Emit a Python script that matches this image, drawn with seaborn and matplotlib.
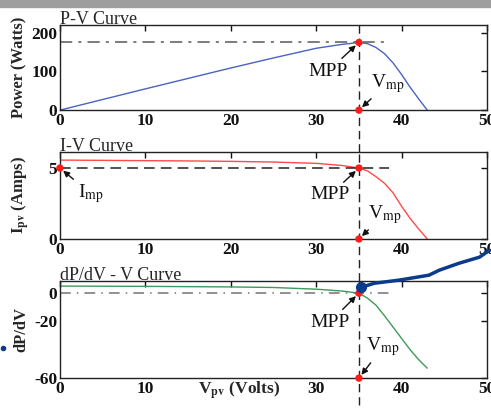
import matplotlib
matplotlib.use("Agg")
import matplotlib.pyplot as plt
import seaborn as sns
from matplotlib.patches import Rectangle

# values
v_pv = [0, 5, 10, 15, 20, 25, 30, 33, 35, 36, 37, 38, 39, 40, 41, 42, 43]
power = [0, 27.5, 55, 82, 109, 135, 160, 170, 175, 172, 162, 146, 122, 92, 59, 29, 0]
current = [5.56, 5.54, 5.52, 5.5, 5.47, 5.42, 5.33, 5.18, 5.0, 4.8, 4.39, 3.92, 3.25, 2.3, 1.45, 0.7, 0]
dpdv = [5, 4.9, 4.8, 4.6, 4.4, 4.0, 2.8, 1.5, 0, -3.5, -8.5, -16, -24, -32, -40, -47, -53]

v_mp = 35
p_mp = 175
i_mp = 5
ref_end = 38.5

# hand-drawn stroke over the scan (bottom panel data coords)
stroke_x = [35.3, 36.8, 39.7, 43.2, 44.4, 46.7, 49.1, 50.3]
stroke_y = [4.2, 7, 9.2, 12.7, 16.2, 21.1, 25.4, 30.3]

xticks = [0, 10, 20, 30, 40, 50]

sns.set_theme(style="white")
plt.rcParams["font.family"] = ["Liberation Serif", "DejaVu Serif"]
plt.rcParams["mathtext.fontset"] = "stix"
plt.rcParams["axes.unicode_minus"] = False
plt.rcParams["axes.edgecolor"] = "#222222"
plt.rcParams["axes.linewidth"] = 1.0

fig = plt.figure(figsize=(4.91, 4.11), dpi=100)
ax1 = fig.add_axes([0.122, 0.732, 0.870, 0.207])
ax2 = fig.add_axes([0.122, 0.4185, 0.870, 0.2117])
ax3 = fig.add_axes([0.122, 0.080, 0.870, 0.236])

sns.lineplot(x=v_pv, y=power, ax=ax1, color="#4a62c4", lw=1, sort=False, estimator=None)
sns.lineplot(x=v_pv, y=current, ax=ax2, color="#ff4a4a", lw=1, sort=False, estimator=None)
sns.lineplot(x=v_pv, y=dpdv, ax=ax3, color="#3d9a5a", lw=1, sort=False, estimator=None)

ax1.set_ylim(0, 220)
ax2.set_ylim(0, 6.13)
ax3.set_ylim(-60, 8.5)
ax1.set_yticks([0, 100, 200])
ax2.set_yticks([0, 5])
ax3.set_yticks([-60, -20, 0])

# reference lines
ax1.hlines(p_mp, 0, ref_end, colors="0.35", linestyles=(0, (8, 4, 2, 4)), lw=1.1)
ax2.hlines(i_mp, 0, ref_end, colors="#222222", linestyles=(0, (7, 4)), lw=1.1)
ax3.hlines(0, 0, ref_end, colors="0.45", linestyles=(0, (7, 4, 1, 4)), lw=1.1)

dash = (0, (6, 3.5))
ax1.axvline(v_mp, ymin=-0.494, ymax=1, color="#222222", ls=dash, lw=1, clip_on=False, zorder=2)
ax2.axvline(v_mp, ymin=-0.483, ymax=1, color="#222222", ls=dash, lw=1, clip_on=False, zorder=2)
ax3.axvline(v_mp, ymin=-0.28, ymax=1, color="#222222", ls=dash, lw=1, clip_on=False, zorder=2)

# red markers
dot = dict(color="#ff1a1a", s=28, zorder=6, clip_on=False, edgecolor="none", legend=False)
sns.scatterplot(x=[v_mp, v_mp], y=[p_mp, 0], ax=ax1, **dot)
sns.scatterplot(x=[0, v_mp, v_mp], y=[i_mp, i_mp, 0], ax=ax2, **dot)
sns.scatterplot(x=[v_mp, v_mp], y=[0, -60], ax=ax3, **dot)

arrow = dict(arrowstyle="-|>", color="#111111", lw=1, mutation_scale=9, shrinkA=1, shrinkB=3)
txt = dict(fontsize=14, ha="center", va="center", color="#111111")

ax1.annotate("MPP", xy=(v_mp, p_mp), xytext=(31.4, 101), arrowprops=arrow, **txt)
ax1.annotate("V$_{\\rm mp}$", xy=(v_mp, 0), xytext=(38.4, 70), arrowprops=arrow, **txt)
ax2.annotate("MPP", xy=(v_mp, i_mp), xytext=(31.6, 3.1), arrowprops=arrow, **txt)
ax2.annotate("V$_{\\rm mp}$", xy=(v_mp, 0), xytext=(38.0, 1.75), arrowprops=arrow, **txt)
ax2.annotate("I$_{\\rm mp}$", xy=(0, i_mp), xytext=(3.6, 3.2), arrowprops=arrow, **txt)
ax3.annotate("MPP", xy=(v_mp, 0), xytext=(31.6, -20.5), arrowprops=arrow, **txt)
ax3.annotate("V$_{\\rm mp}$", xy=(v_mp, -60), xytext=(37.8, -38), arrowprops=arrow, **txt)

titles = ["P-V Curve", "I-V Curve", "dP/dV - V Curve"]
ylabels = ["Power (Watts)", "I$_{\\mathbf{pv}}$ (Amps)", "dP/dV"]
label_x = [-0.075, -0.066, -0.072]
for ax, title, ylab, lx in zip([ax1, ax2, ax3], titles, ylabels, label_x):
    ax.set_xlim(0, 50)
    ax.set_xticks(xticks)
    ax.set_title(title, loc="left", fontsize=13, pad=1, x=0.0)
    ax.set_ylabel(ylab, fontsize=12, fontweight="bold")
    ax.yaxis.set_label_coords(lx, 0.5)
    ax.tick_params(direction="in", top=True, right=True, length=4, width=1,
                   labelsize=12.5, pad=2, colors="#111111")
    for lbl in ax.get_xticklabels() + ax.get_yticklabels():
        lbl.set_fontweight("bold")
    for s in ax.spines.values():
        s.set_color("#222222")

ax3.set_xticklabels(["0", "10", "", "30", "40", "50"], fontweight="bold")
ax3.set_xlabel("V$_{\\mathbf{pv}}$ (Volts)", fontsize=12.5, fontweight="bold")
ax3.xaxis.set_label_coords(0.42, -0.02)

# scan artefacts
ax3.plot(stroke_x, stroke_y, color="#0b3c8c", lw=2.5, clip_on=False, zorder=7,
         solid_capstyle="round")
ax3.plot(stroke_x[:1], stroke_y[:1], "o", color="#0b3c8c", ms=7, clip_on=False, zorder=7)
ax3.plot([-6.7], [-38.8], "o", color="#0b3c8c", ms=3, clip_on=False, zorder=7)
fig.patches.append(Rectangle((0, 1 - 7 / 411), 1, 7 / 411, transform=fig.transFigure,
                             color="0.62", zorder=0))

fig.savefig("out.png", dpi=100)
